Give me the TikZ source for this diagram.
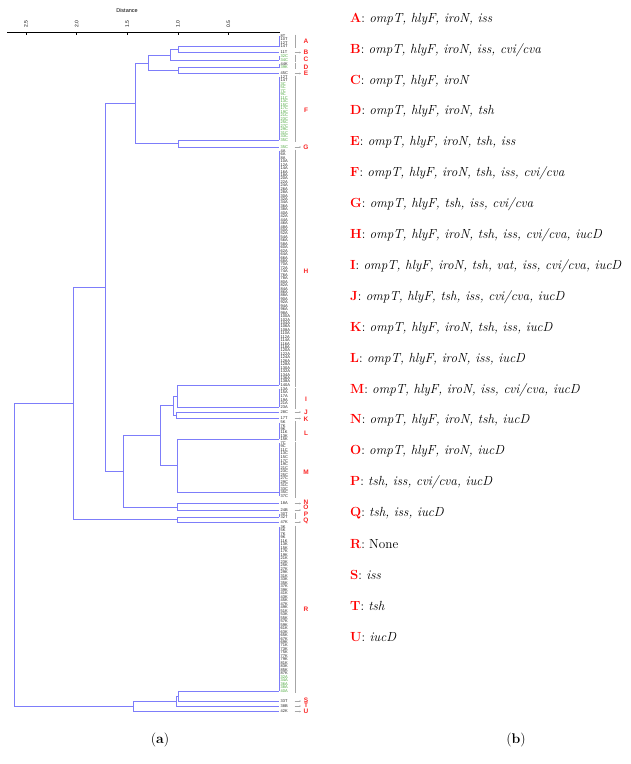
\documentclass[tikz,border=0pt]{standalone}
\usepackage{fontspec}
\newfontfamily\lsans{Liberation Sans}
\usetikzlibrary{arrows.meta}
\definecolor{treeblue}{RGB}{125,125,250}
\definecolor{leafgreen}{RGB}{70,165,55}
\definecolor{grpred}{RGB}{250,40,40}
\definecolor{leafgray}{RGB}{35,35,35}
\tikzset{
  tree/.style={draw=treeblue,line width=0.8pt},
  leaflbl/.style={anchor=west,inner sep=0pt,font=\lsans\fontsize{4}{4}\selectfont},
  grpletter/.style={text=grpred,inner sep=0pt,font=\lsans\bfseries\fontsize{6.5}{6.5}\selectfont},
  brack/.style={draw=gray!70,line width=0.5pt},
  legitem/.style={anchor=west,inner sep=0pt,font=\fontsize{13.2}{15}\selectfont},
  ticklbl/.style={rotate=90,inner sep=0pt,font=\lsans\fontsize{5}{5}\selectfont},
}
\newcommand\tjoin[5]{\draw[tree] (#2,#3) -- (#1,#3) -- (#1,#5) -- (#4,#5);}
% #1 ystart #2 yend #3 count #4 base number #5 suffix #6 colour #7 id
\newcommand\leafgrp[7]{%
  \foreach \k in {1,...,#3}{%
    \pgfmathsetmacro\yy{#1+(\k-1)*(#2-#1)/max(#3-1,1)}%
    \pgfmathtruncatemacro\nn{#4+\k*2}%
    \node[leaflbl,text=#6] (leaf#7\k) at (280.5,\yy) {\nn#5};
  }}
\newcommand\leafline[2]{\draw[tree] (279,#1) -- (279,#2);}
\newcommand\brk[2]{\draw[brack] (295.5,#1) -- (295.5,#2);}
\newcommand\sarrow[1]{\draw[brack,-{Stealth[length=1.5pt,width=1.5pt]}] (294.5,#1) -- (301,#1);}
\begin{document}
\begin{tikzpicture}[x=1pt,y=-1pt]
\useasboundingbox (0,0) rectangle (630,764);
% axis
\node[font=\lsans\fontsize{5.5}{5.5}\selectfont,inner sep=0pt] (distlbl) at (127,11) {Distance};
\draw[black,line width=0.5pt] (7,32) -- (280,32);
\foreach \v/\x in {2.5/26,2.0/76.6,1.5/127.2,1.0/177.8,0.5/228.4}{
  \draw[black,line width=0.4pt] (\x,32) -- (\x,34.5);
  \node[ticklbl] (tick\x) at (\x,24) {\v};
}
% tree joins
\tjoin{178}{279}{46.5}{279}{52.5}
\tjoin{170}{178}{49.5}{279}{60}
\tjoin{178}{279}{67.5}{279}{73.5}
\tjoin{148}{170}{55}{178}{70.5}
\tjoin{178}{279}{140}{279}{147}
\tjoin{135}{148}{63}{178}{143.5}
\tjoin{177}{279}{385}{279}{407}
\tjoin{176}{279}{412}{279}{418.5}
\tjoin{173}{177}{396}{176}{415}
\tjoin{177}{279}{439}{279}{492}
\tjoin{160}{173}{405.5}{177}{465.5}
\tjoin{177}{279}{503.5}{279}{510}
\tjoin{123}{160}{435.5}{177}{507}
\tjoin{105}{135}{103.5}{123}{471}
\tjoin{177}{279}{517}{279}{522}
\tjoin{73}{105}{287}{177}{519.5}
\tjoin{178}{279}{691}{279}{701}
\tjoin{176}{178}{696}{279}{706}
\tjoin{133}{176}{701}{279}{711.5}
\tjoin{14}{73}{403.5}{133}{706}
% identical-leaf groups
\leafline{36}{46.5}
\leafline{56}{60}
\leafline{64}{67.5}
\leafline{77}{140}
\leafline{151}{385}
\leafline{389}{407}
\leafline{422.5}{439}
\leafline{443}{496}
\leafline{514}{517}
\leafline{527}{691}
% leaf labels
\leafgrp{36}{46.5}{4}{6}{T}{leafgray}{a}
\leafgrp{52.5}{52.5}{1}{9}{T}{leafgray}{b}
\leafgrp{56}{60}{2}{30}{C}{leafgreen}{c}
\leafgrp{64}{64}{1}{42}{K}{leafgray}{d}
\leafgrp{67.5}{67.5}{1}{37}{K}{leafgreen}{dd}
\leafgrp{73.5}{73.5}{1}{43}{C}{leafgray}{e}
\leafgrp{77}{80.5}{2}{10}{T}{leafgray}{f}
\leafgrp{84}{140}{17}{1}{C}{leafgreen}{ff}
\leafgrp{147}{147}{1}{33}{C}{leafgreen}{g}
\leafgrp{151}{385}{69}{2}{A}{leafgray}{h}
\leafgrp{389}{407}{6}{11}{A}{leafgray}{i}
\leafgrp{412}{412}{1}{26}{C}{leafgray}{j}
\leafgrp{418.5}{418.5}{1}{15}{T}{leafgray}{k}
\leafgrp{422.5}{439}{6}{3}{K}{leafgray}{l}
\leafgrp{443}{496}{16}{5}{C}{leafgray}{m}
\leafgrp{503.5}{503.5}{1}{16}{A}{leafgray}{n}
\leafgrp{510}{510}{1}{22}{B}{leafgray}{o}
\leafgrp{514}{517}{2}{28}{T}{leafgray}{p}
\leafgrp{522}{522}{1}{45}{K}{leafgray}{q}
\leafgrp{527}{673.5}{43}{1}{K}{leafgray}{r}
\leafgrp{677}{691}{5}{30}{A}{leafgreen}{rr}
\leafgrp{701}{701}{1}{31}{T}{leafgray}{s}
\leafgrp{706}{706}{1}{36}{B}{leafgray}{t}
\leafgrp{711.5}{711.5}{1}{40}{K}{leafgray}{u}
% brackets and arrows
\brk{34.5}{48}
\sarrow{52.5}
\brk{54.5}{61.5}
\brk{62.5}{69}
\sarrow{73.5}
\brk{75.5}{141.5}
\sarrow{147}
\brk{149.5}{386.5}
\brk{387.5}{408.5}
\sarrow{412}
\sarrow{418.5}
\brk{421}{440.5}
\brk{441.5}{497.5}
\sarrow{503.5}
\sarrow{510}
\brk{512.5}{518.5}
\sarrow{522}
\brk{525.5}{692.5}
\sarrow{701}
\sarrow{706}
\sarrow{711.5}
% group letters
\foreach \g/\y in {A/41,B/52,C/59,D/67.5,E/73,F/110,G/147,H/271,I/399,J/412.5,K/419,L/433,M/472,N/502,O/507.5,P/514,Q/521,R/609,S/700,T/705.5,U/711}{
  \node[grpletter] (grp\g) at (306,\y) {\g};
}
% legend
\foreach \i/\g/\t in {0/A/{\textit{ompT, hlyF, iroN, iss}},
  1/B/{\textit{ompT, hlyF, iroN, iss, cvi/cva}},
  2/C/{\textit{ompT, hlyF, iroN}},
  3/D/{\textit{ompT, hlyF, iroN, tsh}},
  4/E/{\textit{ompT, hlyF, iroN, tsh, iss}},
  5/F/{\textit{ompT, hlyF, iroN, tsh, iss, cvi/cva}},
  6/G/{\textit{ompT, hlyF, tsh, iss, cvi/cva}},
  7/H/{\textit{ompT, hlyF, iroN, tsh, iss, cvi/cva, iucD}},
  8/I/{\textit{ompT, hlyF, iroN, tsh, vat, iss, cvi/cva, iucD}},
  9/J/{\textit{ompT, hlyF, tsh, iss, cvi/cva, iucD}},
  10/K/{\textit{ompT, hlyF, iroN, tsh, iss, iucD}},
  11/L/{\textit{ompT, hlyF, iroN, iss, iucD}},
  12/M/{\textit{ompT, hlyF, iroN, iss, cvi/cva, iucD}},
  13/N/{\textit{ompT, hlyF, iroN, tsh, iucD}},
  14/O/{\textit{ompT, hlyF, iroN, iucD}},
  15/P/{\textit{tsh, iss, cvi/cva, iucD}},
  16/Q/{\textit{tsh, iss, iucD}},
  17/R/{None},
  18/S/{\textit{iss}},
  19/T/{\textit{tsh}},
  20/U/{\textit{iucD}}}{
  \node[legitem] (leg\g) at (350,19+30.9*\i) {\textcolor{red}{\textbf{\g}}: \t};
}
% captions
\node[font=\fontsize{14}{16}\selectfont,inner sep=0pt] (capa) at (160,740) {(\textbf{a})};
\node[font=\fontsize{14}{16}\selectfont,inner sep=0pt] (capb) at (516,740) {(\textbf{b})};
\end{tikzpicture}
\end{document}
